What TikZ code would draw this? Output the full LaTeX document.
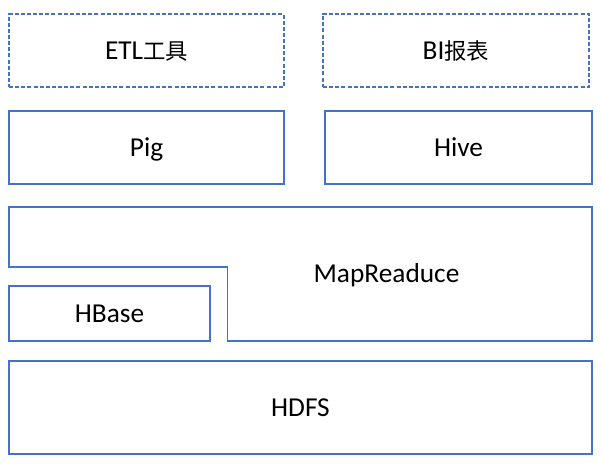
\documentclass[tikz,border=0pt]{standalone}
\usepackage{fontspec}
\setmainfont{Carlito}
\newfontfamily\cjk[Scale=0.82]{Noto Sans CJK SC}
\definecolor{boxblue}{HTML}{4472C4}
\begin{document}
\begin{tikzpicture}[x=0.75pt,y=-0.75pt,
  layer/.style={draw=boxblue, line width=1.1pt, rectangle, inner sep=0pt,
    font=\fontsize{20.5}{24}\selectfont, text height=13.2pt, text depth=0pt},
  dashedlayer/.style={layer, dash pattern=on 3pt off 1.6pt},
  plaintext/.style={inner sep=0pt, font=\fontsize{20.5}{24}\selectfont, text height=13.2pt, text depth=0pt}]
\useasboundingbox (0,0) rectangle (601,469);
\node[dashedlayer, minimum width=206.25pt, minimum height=54.75pt] (etl) at (146.5,50.5) {ETL{\cjk 工具}\hspace{6pt}};
\node[dashedlayer, minimum width=199.5pt, minimum height=54.75pt] (bi) at (456,50.5) {BI{\cjk 报表}};
\node[layer, minimum width=206.25pt, minimum height=54.75pt] (pig) at (146.5,147.5) {Pig};
\node[layer, minimum width=200.25pt, minimum height=54.75pt] (hive) at (458.5,147.5) {Hive};
\node[layer, minimum width=150.75pt, minimum height=41.25pt] (hbase) at (109.5,313.5) {HBase};
\node[layer, minimum width=437.25pt, minimum height=69.75pt] (hdfs) at (300.5,407.5) {HDFS};
\draw[draw=boxblue, line width=1.1pt, line join=miter]
  (9,207) -- (592,207) -- (592,341) -- (227.5,341) -- (227.5,267) -- (9,267) -- cycle;
\node[plaintext] (mr) at (386.5,274) {MapReaduce};
\end{tikzpicture}
\end{document}
